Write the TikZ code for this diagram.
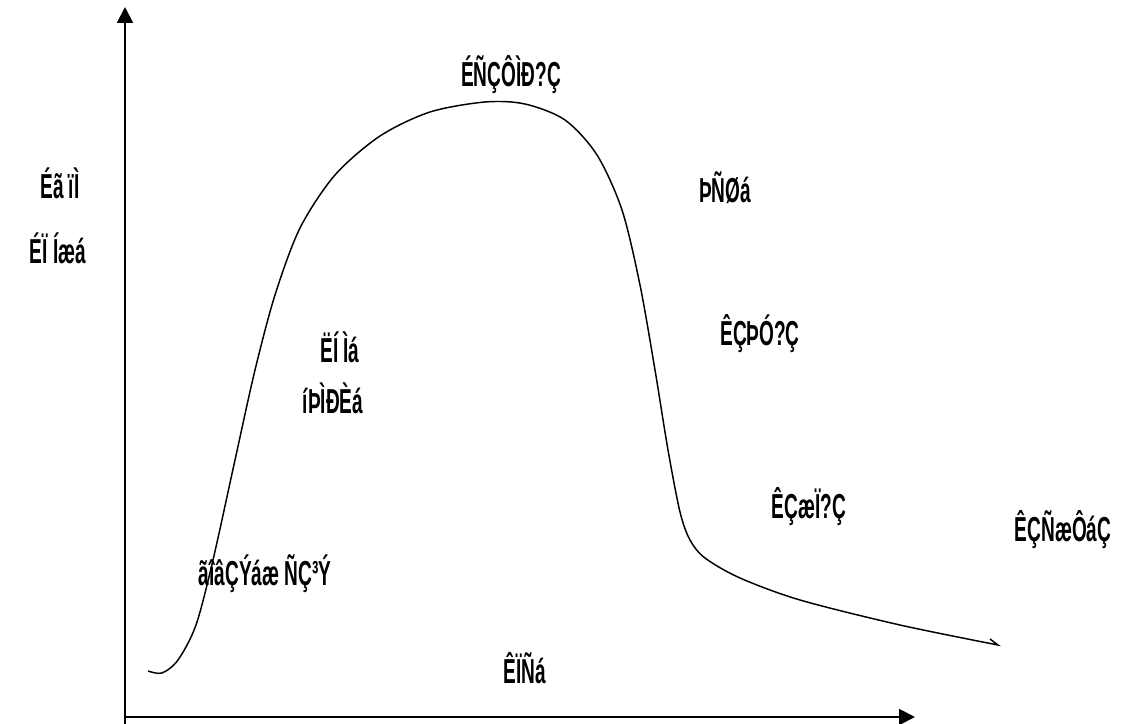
\documentclass[tikz,border=0pt]{standalone}
\usepackage{fontspec}
\setmainfont{Liberation Sans}
\usetikzlibrary{arrows.meta}
\newcommand\nx[1]{\scalebox{0.55}[1]{#1}}
\begin{document}
\begin{tikzpicture}[x=0.75pt,y=-0.75pt,
  axis/.style={line width=1.5pt,-{Triangle[length=12pt,width=12pt]}},
  curve/.style={line width=1.1pt},
  lbl/.style={font=\fontsize{26}{28}\selectfont\bfseries, inner sep=0pt}]
\useasboundingbox (0,0) rectangle (1128,724);
% axes
\coordinate (ybot) at (125,724);
\coordinate (ytop) at (125,7);
\coordinate (xl) at (125,717);
\coordinate (xr) at (915,717);
\draw[axis] (ybot) -- (ytop);
\draw[axis] (xl) -- (xr);
% curve
\draw[curve] plot[smooth,tension=0.5] coordinates {
 (148,671) (162,673) (178,660) (196,625) (213,560) (235,460) (255,370)
 (275,295) (300,228) (335,175) (380,136) (430,112) (485,102) (525,104)
 (565,120) (597,155) (622,210) (640,285) (655,370) (668,450) (680,512)
 (690,540) (705,558) (740,578) (800,600) (900,625) (998,645)}
 -- (990,639);
% labels
\node[lbl] (t1) at (511,75) {\nx{ÉÑÇÔÌÐ?Ç}};
\node[lbl] (t2) at (60,183) {\nx{Éã ïÌ}};
\node[lbl] (t3) at (58,248) {\nx{ÉÏ Íæá}};
\node[lbl] (t4) at (725,188) {\nx{ÞÑØá}};
\node[lbl] (t5) at (340,347) {\nx{ËÍ Ìá}};
\node[lbl] (t6) at (333,398) {\nx{íÞÌÐÈá}};
\node[lbl] (t7) at (760,334) {\nx{ÊÇÞÓ?Ç}};
\node[lbl] (t8) at (809,507) {\nx{ÊÇæÏ?Ç}};
\node[lbl] (t9) at (1063,530) {\nx{ÊÇÑæÔáÇ}};
\node[lbl] (t10) at (265,574) {\nx{ãîâÇÝáæ ÑÇ³Ý}};
\node[lbl] (t11) at (525,668) {\nx{ÊÏÑá}};
\end{tikzpicture}
\end{document}
